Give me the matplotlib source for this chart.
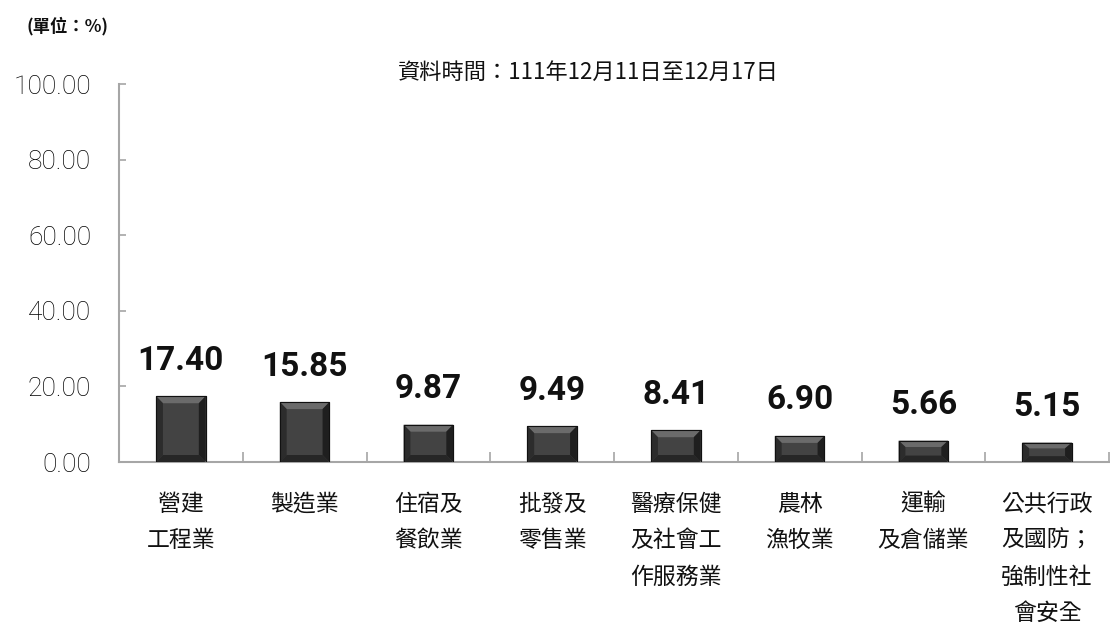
import matplotlib
matplotlib.use('Agg')
import matplotlib.pyplot as plt
from matplotlib.patches import Polygon
import numpy as np

categories = ['營建\n工程業', '製造業', '住宿及\n餐飲業', '批發及\n零售業',
              '醫療保健\n及社會工\n作服務業', '農林\n漁牧業', '運輸\n及倉儲業',
              '公共行政\n及國防；\n強制性社\n會安全']
values = [17.40, 15.85, 9.87, 9.49, 8.41, 6.90, 5.66, 5.15]
yticks = [0, 20, 40, 60, 80, 100]
title = '資料時間：111年12月11日至12月17日'
unit = '(單位：%)'

cjk = ['Noto Sans CJK TC', 'DejaVu Sans']
gray = '#a6a6a6'

fig = plt.figure(figsize=(11.1, 6.36), dpi=100)
ax = fig.add_axes([119/1110, 1-462/636, (1109-119)/1110, (462-84)/636])

x = np.arange(len(values))
bars = ax.bar(x, values, width=0.4, color='#434343', edgecolor='#111111', lw=0.8, zorder=2)

# bevel look on each bar
px_y = 100/378.0
for b in bars:
    x0, w, h = b.get_x(), b.get_width(), b.get_height()
    x1 = x0 + w
    dx = 0.055
    dy = min(7*px_y, 0.3*h)
    faces = [
        ([(x0, h), (x1, h), (x1-dx, h-dy), (x0+dx, h-dy)], '#6b6b6b'),
        ([(x0, 0), (x0, h), (x0+dx, h-dy), (x0+dx, dy)], '#2c2c2c'),
        ([(x1, 0), (x1, h), (x1-dx, h-dy), (x1-dx, dy)], '#1f1f1f'),
        ([(x0, 0), (x1, 0), (x1-dx, dy), (x0+dx, dy)], '#262626'),
    ]
    for pts, c in faces:
        ax.add_patch(Polygon(pts, closed=True, fc=c, ec='none', zorder=3))
    ax.add_patch(plt.Rectangle((x0, 0), w, h, fc='none', ec='#111111', lw=0.8, zorder=4))

for xi, v in zip(x, values):
    ax.annotate(f'{v:.2f}', (xi, v), xytext=(0, 14), textcoords='offset points',
                ha='center', va='bottom', fontsize=24, fontweight='bold',
                family='Roboto', color='#111111')

ax.set_xlim(-0.5, len(values) - 0.5)
ax.set_ylim(0, 100)
ax.set_yticks(yticks)
ax.set_yticklabels([f'{t:.2f}' for t in yticks], family='Roboto', fontweight='light',
                   fontsize=19, color='#000000')
ax.tick_params(axis='y', direction='in', length=5, width=1.2, color=gray, pad=20)

ax.set_xticks(x)
ax.set_xticklabels(categories, family=cjk, fontsize=16.5, color='#111111')
ax.set_xticks(np.arange(-0.5, len(values)), minor=True)
ax.tick_params(axis='x', which='major', length=0, pad=22)
ax.tick_params(axis='x', which='minor', direction='in', length=7.5, width=1.2, color=gray)
for lab in ax.get_xticklabels():
    lab.set_linespacing(1.75)

for s in ('top', 'right'):
    ax.spines[s].set_visible(False)
for s in ('left', 'bottom'):
    ax.spines[s].set_color(gray)
    ax.spines[s].set_linewidth(1.5)

fig.text(588/1110, 1-72/636, title, family=cjk, fontsize=16, ha='center', va='center', color='#111111')
fig.text(27/1110, 1-26/636, unit, family=cjk, fontsize=12.5, fontweight='bold', ha='left', va='center', color='#111111')

fig.savefig('out.png', dpi=100)
